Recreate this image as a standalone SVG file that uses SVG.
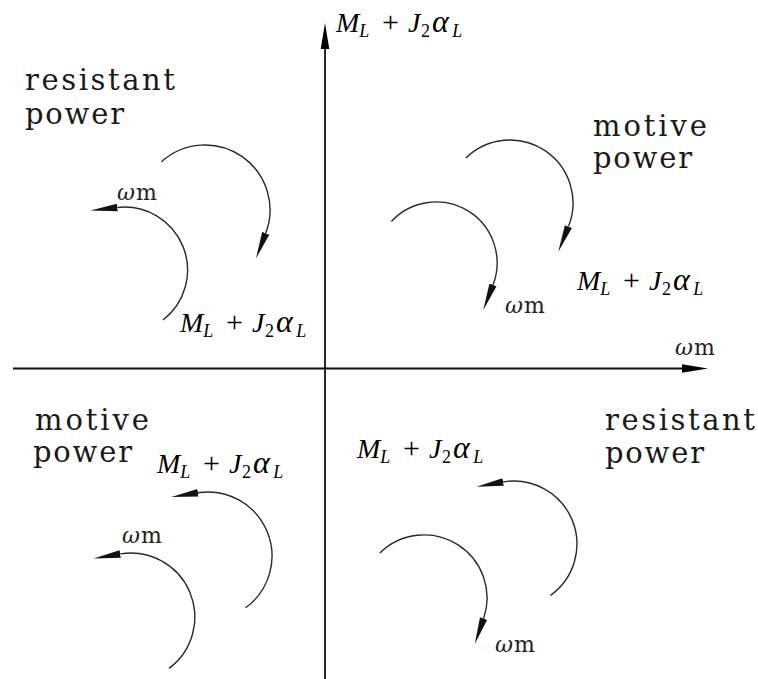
<svg xmlns="http://www.w3.org/2000/svg" width="758" height="679" viewBox="0 0 758 679">
<style>
.bg{fill:#fff}
.axis{stroke:#111;stroke-width:1.8;fill:none}
.arc{stroke:#2a2a2a;stroke-width:1.4;fill:none}
.lbl{font-family:"DejaVu Serif",serif;font-size:29px;fill:#1a1a1a}
.mth{font-family:"Liberation Serif",serif;font-size:28px;fill:#000}
.i{font-style:italic}
.s{font-size:18px}
.p{font-size:30px}
.a{font-size:32px}
.w{font-family:"DejaVu Serif",serif;font-size:22px;fill:#222}
</style>
<defs>
<marker id="ah" viewBox="0 -5 28 10" refX="0" refY="0" markerWidth="28" markerHeight="10" markerUnits="userSpaceOnUse" orient="auto">
<path d="M0,-3.8 L27,0 L0,3.8 z" fill="#111"/>
</marker>
<marker id="ax" viewBox="0 -5 28 10" refX="0" refY="0" markerWidth="28" markerHeight="10" markerUnits="userSpaceOnUse" orient="auto">
<path d="M0,-4.3 L26,0 L0,4.3 z" fill="#000"/>
</marker>
</defs>
<rect class="bg" x="0" y="0" width="758" height="679"/>

<g id="connectors">
<g id="axes">
<path class="axis" d="M13,368.5 H682" marker-end="url(#ax)"/>
<path class="axis" d="M325,679 V49" marker-end="url(#ax)"/>
</g>
<g id="arcs">
<path class="arc" d="M161.5,161.7 A65,65 0 0 1 265.7,233.3" marker-end="url(#ah)"/>
<path class="arc" d="M163,320 A63,63 0 0 0 117.3,207.5" marker-end="url(#ah)"/>
<path class="arc" d="M465.9,158 A63,63 0 0 1 568.4,226.6" marker-end="url(#ah)"/>
<path class="arc" d="M391.4,221.4 A61,61 0 0 1 493,284.9" marker-end="url(#ah)"/>
<path class="arc" d="M245.6,607.8 A64,64 0 0 0 198,492.8" marker-end="url(#ah)"/>
<path class="arc" d="M169,668.4 A64,64 0 0 0 120.2,553.9" marker-end="url(#ah)"/>
<path class="arc" d="M550.3,595.5 A63,63 0 0 0 503.1,482" marker-end="url(#ah)"/>
<path class="arc" d="M379.9,553 A63,63 0 0 1 483.6,618.5" marker-end="url(#ah)"/>
</g>
</g>

<g id="axis-labels">
<text class="mth" x="336" y="32"><tspan class="i">M</tspan><tspan class="i s" dy="5">L</tspan><tspan class="p" dx="12.7" dy="-5">+</tspan><tspan class="i" dx="9">J</tspan><tspan class="s" dx="0.6" dy="5">2</tspan><tspan class="i a" dx="2" dy="-5">α</tspan><tspan class="i s" dx="3.5" dy="5">L</tspan></text>
<text class="w" x="675" y="355"><tspan class="i">ω</tspan><tspan x="694">m</tspan></text>
</g>

<g id="q2-resistant">
<text class="lbl" x="25" y="90" textLength="150" lengthAdjust="spacing">resistant</text>
<text class="lbl" x="25" y="124" textLength="99" lengthAdjust="spacing">power</text>
<text class="w" x="117" y="200"><tspan class="i">ω</tspan><tspan x="136">m</tspan></text>
<text class="mth" x="180" y="332"><tspan class="i">M</tspan><tspan class="i s" dy="5">L</tspan><tspan class="p" dx="12.7" dy="-5">+</tspan><tspan class="i" dx="9">J</tspan><tspan class="s" dx="0.6" dy="5">2</tspan><tspan class="i a" dx="2" dy="-5">α</tspan><tspan class="i s" dx="3.5" dy="5">L</tspan></text>
</g>

<g id="q1-motive">
<text class="lbl" x="593" y="136" textLength="114" lengthAdjust="spacing">motive</text>
<text class="lbl" x="593" y="168" textLength="99" lengthAdjust="spacing">power</text>
<text class="w" x="505" y="313"><tspan class="i">ω</tspan><tspan x="524">m</tspan></text>
<text class="mth" x="577" y="290"><tspan class="i">M</tspan><tspan class="i s" dy="5">L</tspan><tspan class="p" dx="12.7" dy="-5">+</tspan><tspan class="i" dx="9">J</tspan><tspan class="s" dx="0.6" dy="5">2</tspan><tspan class="i a" dx="2" dy="-5">α</tspan><tspan class="i s" dx="3.5" dy="5">L</tspan></text>
</g>

<g id="q3-motive">
<text class="lbl" x="35" y="430" textLength="114" lengthAdjust="spacing">motive</text>
<text class="lbl" x="33" y="462" textLength="99" lengthAdjust="spacing">power</text>
<text class="w" x="122" y="543"><tspan class="i">ω</tspan><tspan x="141">m</tspan></text>
<text class="mth" x="157" y="473"><tspan class="i">M</tspan><tspan class="i s" dy="5">L</tspan><tspan class="p" dx="12.7" dy="-5">+</tspan><tspan class="i" dx="9">J</tspan><tspan class="s" dx="0.6" dy="5">2</tspan><tspan class="i a" dx="2" dy="-5">α</tspan><tspan class="i s" dx="3.5" dy="5">L</tspan></text>
</g>

<g id="q4-resistant">
<text class="lbl" x="605" y="430" textLength="150" lengthAdjust="spacing">resistant</text>
<text class="lbl" x="605" y="463" textLength="99" lengthAdjust="spacing">power</text>
<text class="w" x="495" y="652"><tspan class="i">ω</tspan><tspan x="514">m</tspan></text>
<text class="mth" x="357" y="458"><tspan class="i">M</tspan><tspan class="i s" dy="5">L</tspan><tspan class="p" dx="12.7" dy="-5">+</tspan><tspan class="i" dx="9">J</tspan><tspan class="s" dx="0.6" dy="5">2</tspan><tspan class="i a" dx="2" dy="-5">α</tspan><tspan class="i s" dx="3.5" dy="5">L</tspan></text>
</g>
</svg>
